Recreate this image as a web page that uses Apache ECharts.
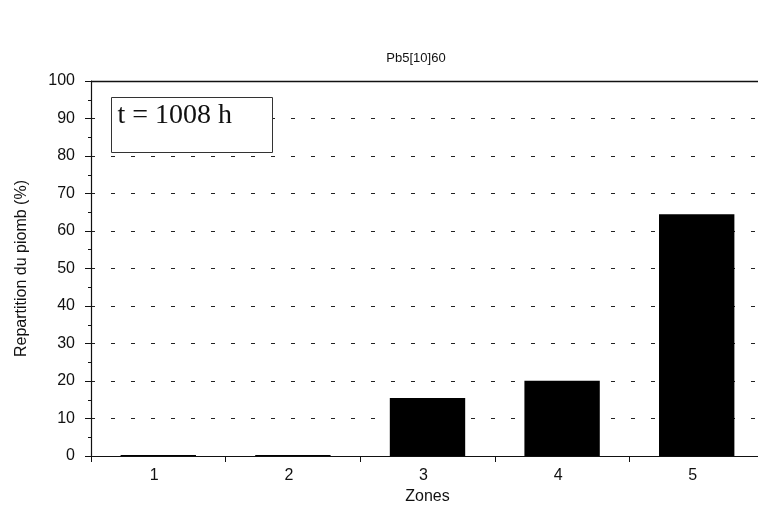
<!DOCTYPE html>
<html><head><meta charset="utf-8">
<script src="https://cdn.jsdelivr.net/npm/echarts@6/dist/echarts.min.js"></script>
<style>html,body{margin:0;padding:0;background:#fff}#c{width:758px;height:509px}</style>
</head><body><div id="c"></div>
<script>
const categories = ['1', '2', '3', '4', '5'];
const values = [0.3, 0.3, 15.5, 20.1, 64.5];
const yTicks = [0, 10, 20, 30, 40, 50, 60, 70, 80, 90, 100];
const titleText = 'Pb5[10]60';
const annotation = 't = 1008 h';

const chart = echarts.init(document.getElementById('c'), null, {renderer: 'canvas'});
chart.setOption({
  animation: false,
  backgroundColor: '#fff',
  title: {text: titleText, left: 411, top: 47, textAlign: 'center',
    textStyle: {fontFamily: 'Liberation Sans, Arial', fontSize: 13, fontWeight: 'normal', color: '#111'}},
  grid: {left: 91, right: -6, top: 81, bottom: 53, containLabel: false, outerBoundsMode: 'none'},
  xAxis: {
    type: 'category', data: categories,
    name: 'Zones', nameLocation: 'middle', nameGap: 33,
    nameTextStyle: {fontFamily: 'Liberation Sans, Arial', fontSize: 16, color: '#111'},
    axisLine: {show: true, lineStyle: {color: '#111', width: 1.2}},
    axisTick: {show: true, alignWithLabel: false, length: 6, inside: false, lineStyle: {color: '#111'}},
    axisLabel: {fontFamily: 'Liberation Sans, Arial', fontSize: 16, color: '#111', margin: 12,
      padding: [0, 8, 0, 0]},
    splitLine: {show: false}
  },
  yAxis: {
    type: 'value', min: 0, max: 100, interval: 10,
    name: 'Repartition du piomb (%)', nameLocation: 'middle', nameGap: 61,
    nameTextStyle: {fontFamily: 'Liberation Sans, Arial', fontSize: 16, color: '#111'},
    axisLine: {show: true, lineStyle: {color: '#111', width: 1.2}},
    axisTick: {show: true, length: 6, lineStyle: {color: '#111'}},
    minorTick: {show: true, splitNumber: 2, length: 3, lineStyle: {color: '#111'}},
    axisLabel: {fontFamily: 'Liberation Sans, Arial', fontSize: 16, color: '#111', margin: 16,
      formatter: v => yTicks.includes(v) ? String(v) : ''},
    splitLine: {show: true, lineStyle: {color: '#222', type: [4, 16], width: 1.2}}
  },
  series: [{
    type: 'bar', data: values, barWidth: '56%',
    itemStyle: {color: '#000'}
  }, {
    type: 'line', data: [], markLine: {
      silent: true, symbol: 'none', label: {show: false},
      lineStyle: {color: '#111', type: 'solid', width: 1.3},
      data: [{yAxis: 100}]
    }
  }],
  graphic: [{
    type: 'group', left: 111, top: 97, z: 100, children: [
      {type: 'rect', z: 100, shape: {x: 0, y: 0, width: 161, height: 55},
        style: {fill: '#fff', stroke: '#333', lineWidth: 1}},
      {type: 'text', z: 101, left: 6, top: 4, style: {text: annotation,
        font: '28px "Liberation Serif", "Times New Roman", serif', fill: '#111'}}
    ]
  }]
});
</script></body></html>
